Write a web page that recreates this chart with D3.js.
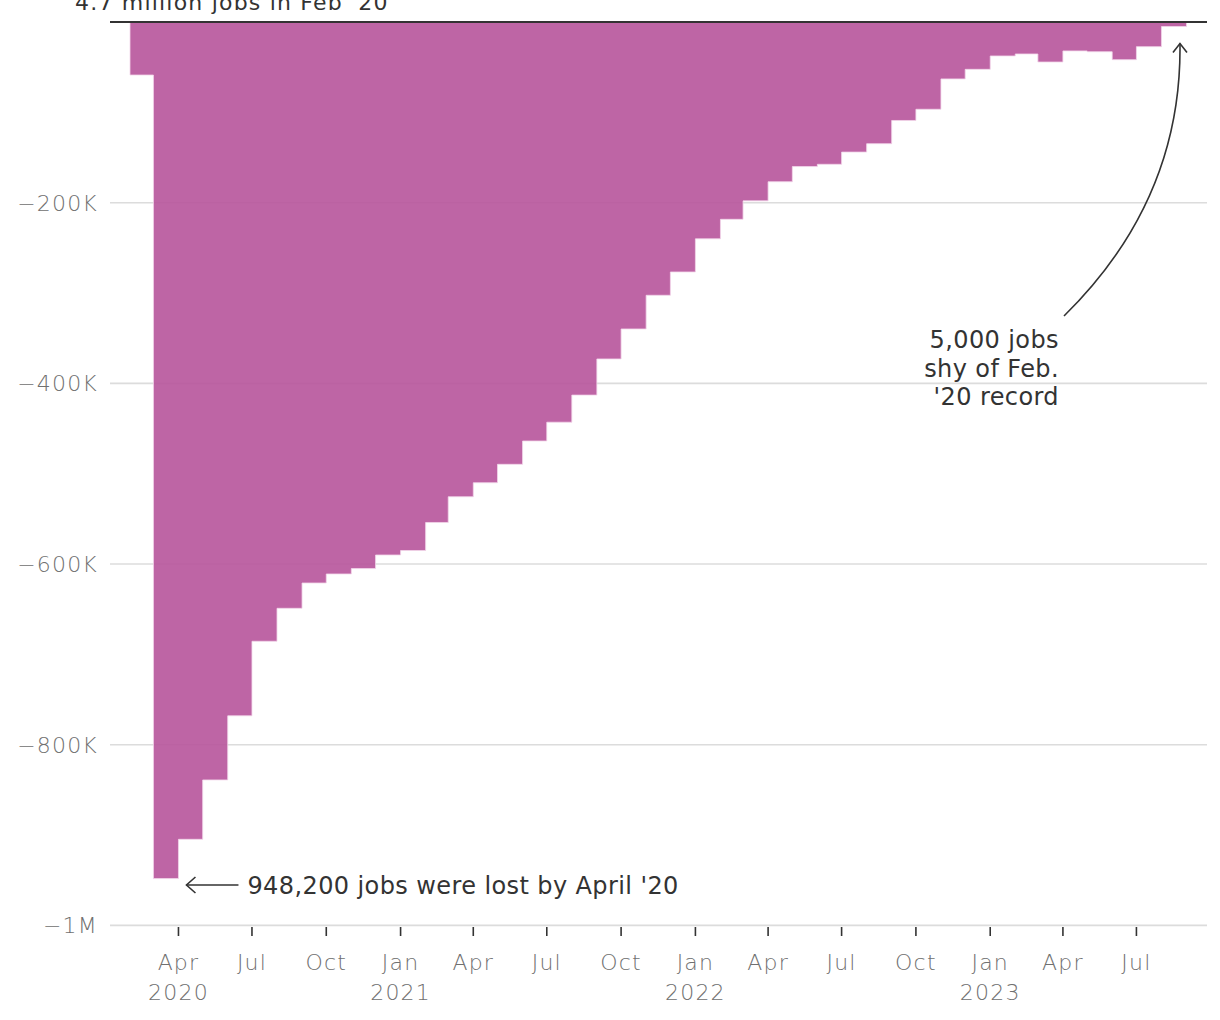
<!DOCTYPE html>
<html>
<head>
<meta charset="utf-8">
<script src="https://cdn.jsdelivr.net/npm/d3@7"></script>
<style>
  html, body { margin: 0; padding: 0; background: #fff; }
  svg { display: block; }
  .axis-text { font-family: "DejaVu Sans", sans-serif; font-weight: 300; fill: #707070; font-size: 22px; letter-spacing: 1.2px; }
  .anno-text { font-family: "DejaVu Sans", sans-serif; fill: #333; font-size: 24px; letter-spacing: 0.4px; }
</style>
</head>
<body>
<svg id="chart" width="1220" height="1020"></svg>
<script>
// ---- Data (change in jobs vs. Feb 2020 peak) ----
const months = [
  "2020-03","2020-04","2020-05","2020-06","2020-07","2020-08","2020-09","2020-10","2020-11","2020-12",
  "2021-01","2021-02","2021-03","2021-04","2021-05","2021-06","2021-07","2021-08","2021-09","2021-10","2021-11","2021-12",
  "2022-01","2022-02","2022-03","2022-04","2022-05","2022-06","2022-07","2022-08","2022-09","2022-10","2022-11","2022-12",
  "2023-01","2023-02","2023-03","2023-04","2023-05","2023-06","2023-07","2023-08","2023-09"
];
const jobsChange = [
  -58700, -948200, -904700, -839000, -768000, -685500, -649000, -621000, -611000, -605000,
  -590000, -585000, -554000, -525500, -510000, -489600, -463800, -443000, -413000, -373000, -339800, -302500,
  -276700, -240000, -218400, -198000, -176800, -160000, -157500, -144000, -134700, -109000, -96600, -63000,
  -52400, -37600, -35400, -44300, -32000, -32900, -41700, -27300, -5000
];
const yTickValues = [-200000, -400000, -600000, -800000, -1000000];
const yTickLabels = ["\u2212200K", "\u2212400K", "\u2212600K", "\u2212800K", "\u22121M"];
const xTickDates = ["2020-04","2020-07","2020-10","2021-01","2021-04","2021-07","2021-10","2022-01","2022-04","2022-07","2022-10","2023-01","2023-04","2023-07"];
const xTickMonthLabels = ["Apr","Jul","Oct","Jan","Apr","Jul","Oct","Jan","Apr","Jul","Oct","Jan","Apr","Jul"];
const xTickYearLabels = ["2020","","","2021","","","","2022","","","","2023","",""];
const topLabel = "4.7 million jobs in Feb '20";
const lowAnnotation = "948,200 jobs were lost by April '20";
const recordAnnotation = ["5,000 jobs", "shy of Feb.", "'20 record"];

// ---- Setup ----
const svg = d3.select("#chart");
const parse = d3.utcParse("%Y-%m");
const data = months.map((m, i) => ({ date: parse(m), value: jobsChange[i] }));

const gridLeft = 110, gridRight = 1207;
const x = d3.scaleUtc()
  .domain([parse("2020-02"), parse("2023-09")])
  .range([130, 1186.5]);
const y = d3.scaleLinear()
  .domain([0, -1000000])
  .range([22, 925.4]);

// gridlines
svg.append("g").selectAll("line")
  .data(yTickValues)
  .join("line")
  .attr("x1", gridLeft).attr("x2", gridRight)
  .attr("y1", d => y(d)).attr("y2", d => y(d))
  .attr("stroke", "#dcdcdc").attr("stroke-width", 1.6);

// y labels
svg.append("g").selectAll("text")
  .data(yTickValues)
  .join("text")
  .attr("class", "axis-text")
  .attr("x", 98)
  .attr("y", d => y(d))
  .attr("dy", "0.36em")
  .attr("text-anchor", "end")
  .text((d, i) => yTickLabels[i]);

// bars as a stepped area (each month's value spans the preceding month)
const pts = data.map(d => ({ date: d3.utcMonth.offset(d.date, -1), value: d.value }));
pts.push({ date: data[data.length - 1].date, value: data[data.length - 1].value });
const area = d3.area()
  .x(d => x(d.date))
  .y0(y(0))
  .y1(d => y(d.value))
  .curve(d3.curveStepAfter);
svg.append("path")
  .datum(pts)
  .attr("d", area)
  .attr("fill", "#b7549b")
  .attr("fill-opacity", 0.9)
  .attr("stroke", "#f3d6ea")
  .attr("stroke-width", 0.8);

// zero line
svg.append("line")
  .attr("x1", gridLeft).attr("x2", gridRight)
  .attr("y1", y(0)).attr("y2", y(0))
  .attr("stroke", "#333").attr("stroke-width", 2);

// top label (partially outside the view, as in the original)
svg.append("text")
  .attr("class", "anno-text")
  .attr("x", 75).attr("y", 10)
  .attr("font-size", 22)
  .style("font-size", "22px")
  .style("letter-spacing", "1.2px")
  .text(topLabel);

// x axis ticks
const xt = svg.append("g");
const tickDates = xTickDates.map(parse);
xt.selectAll("line")
  .data(tickDates)
  .join("line")
  .attr("x1", d => x(d)).attr("x2", d => x(d))
  .attr("y1", 927).attr("y2", 936)
  .attr("stroke", "#333").attr("stroke-width", 1.6);
xt.selectAll("text.m")
  .data(tickDates)
  .join("text")
  .attr("class", "axis-text m")
  .attr("x", d => x(d)).attr("y", 970)
  .attr("text-anchor", "middle")
  .text((d, i) => xTickMonthLabels[i]);
xt.selectAll("text.yr")
  .data(tickDates)
  .join("text")
  .attr("class", "axis-text yr")
  .attr("x", d => x(d)).attr("y", 1000)
  .attr("text-anchor", "middle")
  .text((d, i) => xTickYearLabels[i]);

// annotation: low point
const lowDate = data[1].date;
const ay = 885;
const ax0 = x(lowDate) + 8, ax1 = ax0 + 52;
const ann = svg.append("g").attr("stroke", "#333").attr("stroke-width", 1.6).attr("fill", "none");
ann.append("line").attr("x1", ax0).attr("x2", ax1).attr("y1", ay).attr("y2", ay);
ann.append("path").attr("d", `M${ax0 + 9},${ay - 8} L${ax0},${ay} L${ax0 + 9},${ay + 8}`);
svg.append("text")
  .attr("class", "anno-text")
  .attr("x", ax1 + 9).attr("y", ay + 8.5)
  .text(lowAnnotation);

// annotation: near-record
const last = data[data.length - 1];
const tipX = (x(d3.utcMonth.offset(last.date, -1)) + x(last.date)) / 2 + 6;
const tipY = y(last.value) + 17;
const startX = 1064, startY = 316;
ann.append("path")
  .attr("d", `M${startX},${startY} Q${tipX + 2},${200} ${tipX},${tipY}`);
ann.append("path")
  .attr("d", `M${tipX - 7},${tipY + 9} L${tipX},${tipY} L${tipX + 7},${tipY + 9}`);
svg.append("g").selectAll("text")
  .data(recordAnnotation)
  .join("text")
  .attr("class", "anno-text")
  .attr("x", 1059)
  .attr("y", (d, i) => 348 + i * 28.5)
  .attr("text-anchor", "end")
  .text(d => d);
</script>
</body>
</html>
